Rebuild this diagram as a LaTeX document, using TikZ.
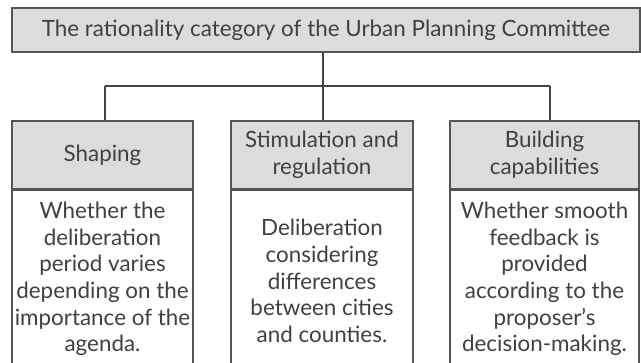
\documentclass[tikz,border=0pt]{standalone}
\usepackage{fontspec}
\setmainfont{Lato}
\definecolor{edge}{HTML}{555555}
\definecolor{headfill}{HTML}{DCDCDC}
\definecolor{ink}{HTML}{404040}
\begin{document}
\begin{tikzpicture}[x=0.75pt,y=-0.75pt,
  every node/.style={text=ink, font=\fontsize{16.8}{20}\selectfont, inner sep=0pt, align=center},
  titlebox/.style={draw=edge, fill=headfill, line width=1.1pt, minimum height=33pt},
  headbox/.style={draw=edge, fill=headfill, line width=1.1pt, minimum height=51pt},
  bodybox/.style={draw=edge, fill=white, line width=1.1pt, minimum height=135pt},
  link/.style={draw=edge!80!black, line width=1.1pt}]
\useasboundingbox (0,0) rectangle (641,363);
\clip (0,0) rectangle (641,363);

% root category
\node[titlebox, minimum width=471pt] (root) at (326,30)
  {The rationality category of the Urban Planning Committee};

% three columns: header and description
\node[headbox, minimum width=135.75pt] (h1) at (102.5,155) {Shaping};
\node[headbox, minimum width=136.5pt]  (h2) at (322,155) {Stimulation and\\regulation};
\node[headbox, minimum width=141.75pt] (h3) at (544.5,155) {Building\\capabilities};

\node[bodybox, minimum width=135.75pt, anchor=north] (d1) at (h1.south) {};
\node[bodybox, minimum width=136.5pt, anchor=north] (d2) at (h2.south) {};
\node[bodybox, minimum width=141.75pt, anchor=north] (d3) at (h3.south) {};

\node (t1) at (102.5,279) {Whether the\\deliberation\\period varies\\depending on the\\importance of the\\agenda.};
\node (t2) at (322,281) {Deliberation\\considering\\differences\\between cities\\and counties.};
\node (t3) at (544.5,279) {Whether smooth\\feedback is\\provided\\according to the\\proposer's\\decision-making.};

% tree connectors
\coordinate (bus) at (323,86);
\coordinate (b1) at (105,86);
\coordinate (b3) at (550,86);
\draw[link] (root.south -| bus) -- (bus);
\draw[link] (b1) -- (b3);
\draw[link] (b1) -- (b1 |- h1.north);
\draw[link] (bus) -- (bus |- h2.north);
\draw[link] (b3) -- (b3 |- h3.north);
\end{tikzpicture}
\end{document}
